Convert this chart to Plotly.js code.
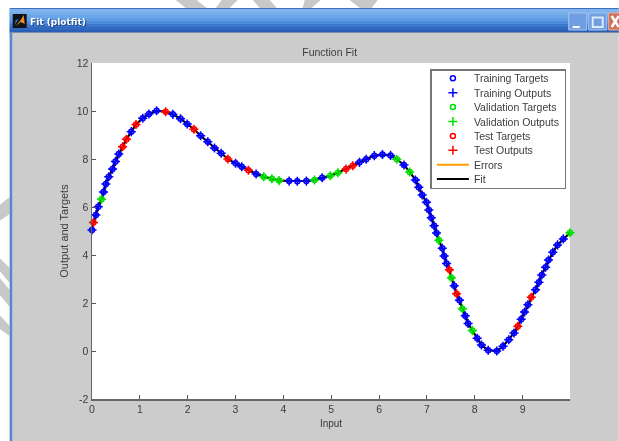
<!DOCTYPE html>
<html>
<head>
<meta charset="utf-8">
<script src="https://cdn.plot.ly/plotly-3.0.1.min.js"></script>
<style>
html,body{margin:0;padding:0;background:#fff;overflow:hidden}
#chart{width:619px;height:441px;filter:blur(0.5px)}
</style>
</head>
<body>
<div id="chart"></div>
<script>
const inputs = [0,0.03,0.08,0.13,0.20,0.24,0.29,0.35,0.43,0.49,0.56,0.64,0.72,0.82,0.92,1.06,1.19,1.35,1.54,1.69,1.85,1.99,2.13,2.27,2.42,2.56,2.70,2.84,3.00,3.13,3.27,3.43,3.59,3.76,3.91,4.12,4.29,4.48,4.65,4.81,4.98,5.14,5.31,5.45,5.59,5.73,5.90,6.07,6.24,6.37,6.52,6.64,6.76,6.83,6.90,6.99,7.04,7.09,7.15,7.20,7.25,7.32,7.36,7.41,7.47,7.51,7.57,7.62,7.68,7.74,7.80,7.86,7.95,8.05,8.14,8.28,8.46,8.59,8.71,8.82,8.90,8.97,9.04,9.11,9.18,9.27,9.34,9.40,9.48,9.54,9.63,9.73,9.85,9.99];
const targets = [5.04,5.35,5.67,6.01,6.32,6.63,6.96,7.26,7.58,7.90,8.21,8.51,8.82,9.14,9.44,9.70,9.875,10.01,9.97,9.86,9.68,9.46,9.24,8.97,8.72,8.46,8.24,8.00,7.82,7.68,7.53,7.375,7.26,7.18,7.10,7.08,7.07,7.08,7.125,7.22,7.30,7.43,7.58,7.72,7.86,7.99,8.14,8.19,8.15,7.99,7.75,7.46,7.125,6.82,6.50,6.20,5.875,5.55,5.22,4.92,4.61,4.28,3.96,3.65,3.39,3.05,2.72,2.39,2.11,1.76,1.47,1.15,0.85,0.53,0.25,0.03,0.00,0.20,0.47,0.75,1.03,1.32,1.625,1.93,2.24,2.55,2.86,3.17,3.49,3.79,4.11,4.42,4.67,4.93];
const splits = "TRTTVTTTTTTRRTRTTTRTTTRTTTTRTTRTVVVTTTVTVVRRTTTTTVTVTTTTTTTTVTTTRVTRTVTTVTTTTTTTRTTTRTTTTTTTTV";
const seriesNames = ["Training Targets","Training Outputs","Validation Targets","Validation Outputs","Test Targets","Test Outputs","Errors","Fit"];
const seriesColors = {T:"#0000ff",V:"#00e000",R:"#ff0000",errors:"#ff9a00",fit:"#000000"};
const xTicks = [0,1,2,3,4,5,6,7,8,9];
const yTicks = [-2,0,2,4,6,8,10,12];
const yTickLabels = ["-2","0","2","4","6","8","10","12"];
const barBands = ["#7fb4ec","#76aeea","#6ba6e8","#5f9ce4","#4e8ddc","#3c78cc","#3069bf","#2a5fb6"];

const L=92.3,R=570.3,T=63,B=399;
const fx=p=>(p-L)/(R-L), fy=p=>(B-p)/(B-T);
const rect=(x0,y0,x1,y1,fill,line)=>({type:"rect",xref:"paper",yref:"paper",layer:"below",x0:fx(x0),x1:fx(x1),y0:fy(y0),y1:fy(y1),fillcolor:fill,line:line||{width:0}});
const poly=(pts,fill,line)=>({type:"path",xref:"paper",yref:"paper",layer:"below",fillcolor:fill,line:line||{width:0},
  path:pts.map((p,i)=>(i?"L":"M")+fx(p[0])+","+fy(p[1])).join(" ")+(fill?" Z":"")});

const shapes=[];
const wm="#c8c8c8";
[
 [[176,0],[197,0],[207,8],[186,8]],
 [[222,0],[238,0],[230,8],[216,8]],
 [[253,0],[270,0],[277,8],[260,8]],
 [[305,0],[321,0],[312,8],[303,8]],
 [[350,0],[378,0],[372,8],[360,8]],
 [[0,205],[10,197],[10,214],[0,221]],
 [[0,258],[10,268],[10,283],[0,271]],
 [[0,278],[10,290],[10,307],[0,295]],
 [[0,315],[10,326],[10,336],[0,329]]
].forEach(p=>shapes.push(poly(p,wm)));
shapes.push(rect(10,8.5,619,441,"#cccccc"));
shapes.push(rect(10,9,12.5,441,"#5a86cc"));
barBands.forEach((c,i)=>shapes.push(rect(10,9+i*3,619,9+(i+1)*3,c)));
shapes.push(rect(10,8,619,9,"#3f70c0"));
shapes.push(rect(10,32,619,33,"#7d8cab"));
// window icon
shapes.push(rect(13,14,27,28,"#101418"));
shapes.push(poly([[16,26],[21,20],[24,15],[25,24],[21,22]],"#f08a24"));
shapes.push(poly([[15,25],[19,19],[16,20]],"#3a70c8"));
// window buttons
shapes.push(rect(569,13,587,30,"#6f9fe2",{color:"#a9c6ee",width:1}));
shapes.push(rect(573,26,580,28,"#ffffff"));
shapes.push(rect(589,13,607,30,"#6f9fe2",{color:"#a9c6ee",width:1}));
shapes.push(rect(593,17.5,603,27,"rgba(0,0,0,0)",{color:"#dfe9f8",width:2}));
shapes.push(rect(609,13,620,30,"#d0705a",{color:"#e8b0a0",width:1}));
shapes.push(poly([[612,16],[619,27]],null,{color:"#ffffff",width:2.5}));
shapes.push(poly([[619,16],[612,27]],null,{color:"#ffffff",width:2.5}));
// plot area
shapes.push(rect(L,T,R,B,"#ffffff"));

const pick=(arr,k)=>arr.filter((_,i)=>splits[i]===k);
const markerTrace=(name,k,symbol,size,rank)=>({
  type:"scatter",mode:"markers",name,legendrank:rank,cliponaxis:false,
  x:pick(inputs,k),y:pick(targets,k),
  marker:{symbol,size,color:seriesColors[k],line:{color:seriesColors[k],width:1.5}}
});
const traces=[
 {type:"scatter",mode:"lines",name:seriesNames[6],legendrank:7,x:inputs,y:targets,line:{color:seriesColors.errors,width:2}},
 {type:"scatter",mode:"lines",name:seriesNames[7],legendrank:8,x:inputs,y:targets,line:{color:seriesColors.fit,width:2}},
 markerTrace(seriesNames[0],"T","circle-open",5,1),
 markerTrace(seriesNames[1],"T","cross-thin-open",6.5,2),
 markerTrace(seriesNames[2],"V","circle-open",5,3),
 markerTrace(seriesNames[3],"V","cross-thin-open",6.5,4),
 markerTrace(seriesNames[4],"R","circle-open",5,5),
 markerTrace(seriesNames[5],"R","cross-thin-open",6.5,6)
];
const font="Liberation Sans, Arial, sans-serif", ink="#3c3c3c";
const layout={
 width:619,height:441,autosize:false,
 margin:{l:L,r:619-R,t:T,b:441-B,pad:0,autoexpand:false},
 paper_bgcolor:"#ffffff",plot_bgcolor:"rgba(0,0,0,0)",
 font:{family:font,size:10.5,color:ink},
 title:{text:"Function Fit",font:{family:font,size:10.5,color:ink},x:fx(330),xref:"paper",xanchor:"center",y:1-52/441,yref:"container",yanchor:"middle"},
 showlegend:true,
 legend:{x:fx(430.7),y:fy(69),xanchor:"left",yanchor:"top",bgcolor:"#ffffff",bordercolor:"#777777",borderwidth:1.5,
   font:{family:font,size:10.5,color:ink},tracegroupgap:0,itemwidth:32,traceorder:"normal"},
 xaxis:{range:[0,9.99],tickvals:xTicks,ticks:"inside",ticklen:4,tickcolor:"#555",tickfont:{family:font,size:10.5,color:ink},
   showline:true,linecolor:"#666",linewidth:1.5,showgrid:false,zeroline:false,
   title:{text:"Input",font:{family:font,size:10,color:ink},standoff:6}},
 yaxis:{range:[-2,12],tickvals:yTicks,ticktext:yTickLabels,ticks:"inside",ticklen:4,tickcolor:"#555",tickfont:{family:font,size:10.5,color:ink},
   showline:true,linecolor:"#666",linewidth:1.5,showgrid:false,zeroline:false,
   title:{text:"Output and Targets",font:{family:font,size:11,color:ink},standoff:6}},
 shapes,
 annotations:[{xref:"paper",yref:"paper",x:fx(28),y:fy(22),xanchor:"left",yanchor:"middle",showarrow:false,text:"<b>Fit (plotfit)</b>",
   font:{family:"DejaVu Sans",size:9,color:"#ffffff",shadow:"1px 1px 1px #1a3f80"}}]
};
Plotly.newPlot("chart",traces,layout,{displayModeBar:false,staticPlot:true}).then(gd=>{
  // Tighten the library's legend rows to the reference's row pitch.
  const rows=[...gd.querySelectorAll(".legend .traces")];
  const tr=el=>(el.getAttribute("transform")||"").match(/translate\(\s*([-\d.]+)[ ,]+([-\d.]+)/);
  rows.sort((a,b)=>parseFloat(tr(a)[2])-parseFloat(tr(b)[2]));
  rows.forEach((el,i)=>el.setAttribute("transform","translate("+tr(el)[1]+","+(9.3+i*14.4)+")"));
  const bg=gd.querySelector(".legend .bg");
  if(bg) bg.setAttribute("height","118.5");
});
</script>
</body>
</html>
